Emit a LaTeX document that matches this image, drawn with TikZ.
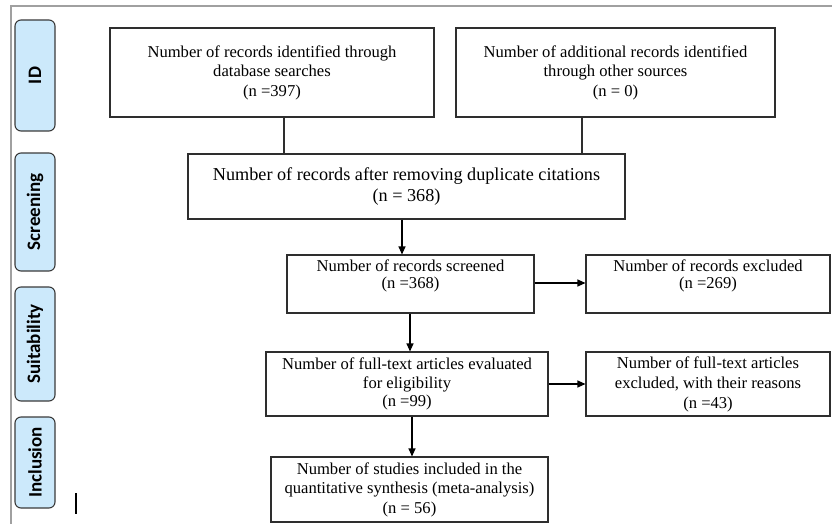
\documentclass[tikz,border=0pt]{standalone}
\usepackage{fontspec}
\setmainfont{Liberation Serif}
\newfontfamily\stagefont{Carlito}
\usetikzlibrary{arrows.meta}
\definecolor{stagefill}{HTML}{CCE9FB}
\definecolor{stageline}{HTML}{3A3A3A}
\definecolor{boxline}{HTML}{2E2E2E}
\definecolor{framegray}{HTML}{A0A0A0}
\begin{document}
\begin{tikzpicture}[x=1pt,y=-1pt,
  box/.style={draw=boxline, line width=1.1pt, rectangle, align=center, inner sep=2pt,
    font=\fontsize{16.6}{19.5}\selectfont},
  stage/.style={draw=stageline, fill=stagefill, line width=1.1pt, rounded corners=6pt,
    rotate=90, minimum height=40pt, inner sep=0pt,
    font=\stagefont\bfseries\fontsize{19}{22}\selectfont},
  flow/.style={line width=1.1pt, draw=black, -{Triangle[length=8pt,width=7pt]}},
  link/.style={line width=1.1pt, draw=boxline}]
\useasboundingbox (0,0) rectangle (832,524);

% page frame (top and left rules)
\coordinate (frameTR) at (832,6);
\coordinate (frameTL) at (11,6);
\coordinate (frameBL) at (11,524);
\draw[framegray, line width=1.2pt] (frameTR) -- (frameTL) -- (frameBL);

% stage labels down the left side
\node[stage, minimum width=111pt] (sID)  at (35,75.5) {ID};
\node[stage, minimum width=118pt] (sScr) at (35,212)  {Screening};
\node[stage, minimum width=114pt] (sSui) at (35,344)  {Suitability};
\node[stage, minimum width=91pt]  (sInc) at (35,462.5) {Inclusion};

% flow boxes
\node[box, minimum width=324pt, minimum height=89pt] (ident) at (272,72.5)
  {Number of records identified through\\database searches\\(n =397)};
\node[box, minimum width=319pt, minimum height=89pt] (other) at (615.5,72.5)
  {Number of additional records identified\\through other sources\\(n = 0)};
\node[box, minimum width=437pt, minimum height=65pt,
      font=\fontsize{18.2}{21}\selectfont] (dedup) at (406.5,186.5)
  {Number of records after removing duplicate citations\\(n = 368)};
\node[box, minimum width=247pt, minimum height=58pt, text depth=20pt,
      font=\fontsize{16.6}{17}\selectfont] (screen) at (410.5,284)
  {Number of records screened\\(n =368)};
\node[box, minimum width=244pt, minimum height=58pt, text depth=20pt,
      font=\fontsize{16.6}{17}\selectfont] (excl) at (708,284)
  {Number of records excluded\\(n =269)};
\node[box, minimum width=282pt, minimum height=64pt,
      font=\fontsize{16.6}{18.5}\selectfont] (full) at (407,384)
  {Number of full-text articles evaluated\\for eligibility\\(n =99)};
\node[box, minimum width=244pt, minimum height=64pt,
      font=\fontsize{16.6}{20}\selectfont] (fullex) at (708,384)
  {Number of full-text articles\\excluded, with their reasons\\(n =43)};
\node[box, minimum width=277pt, minimum height=65pt] (incl) at (409.5,489.5)
  {Number of studies included in the\\quantitative synthesis (meta-analysis)\\(n = 56)};

% connectors
\draw[link] (ident.south -| 284,0) -- (dedup.north -| 284,0);
\draw[link] (other.south -| 582,0) -- (dedup.north -| 582,0);
\draw[flow] (dedup.south -| 402,0) -- (screen.north -| 402,0);
\draw[flow] (screen.east |- 0,283) -- (excl.west |- 0,283);
\draw[flow] (screen.south -| 410,0) -- (full.north -| 410,0);
\draw[flow] (full.east |- 0,384) -- (fullex.west |- 0,384);
\draw[flow] (full.south -| 412,0) -- (incl.north -| 412,0);

% short vertical stroke near the lower left
\coordinate (tickTop) at (76,493);
\coordinate (tickBot) at (76,514);
\draw[line width=1.3pt] (tickTop) -- (tickBot);
\end{tikzpicture}
\end{document}
